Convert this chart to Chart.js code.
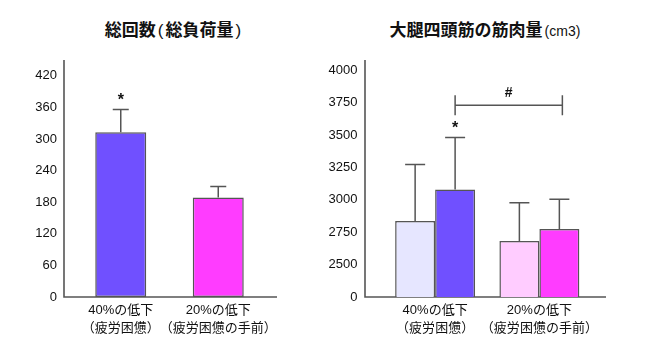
<!DOCTYPE html>
<html><head><meta charset="utf-8">
<script src="https://cdn.jsdelivr.net/npm/chart.js@4.4.0/dist/chart.umd.min.js"></script>
<style>
body{margin:0;background:#fff;width:651px;height:357px;overflow:hidden;position:relative;font-family:"Liberation Sans","Noto Sans CJK JP",sans-serif}
canvas{position:absolute;left:0;top:0}
.title{position:absolute;top:21px;line-height:20px;font-weight:bold;font-size:17px;white-space:nowrap;transform:translateX(-50%);color:#111;font-family:"Liberation Sans","Noto Sans CJK JP",sans-serif}
.title .u{font-size:14px;font-weight:normal;margin-left:2px}
.title .p{font-weight:normal;margin:0 2px}
</style></head><body>
<div class="title" style="left:174px">総回数<span class="p">(</span>総負荷量<span class="p">)</span></div>
<div class="title" style="left:485px">大腿四頭筋の筋肉量<span class="u">(cm3)</span></div>
<canvas id="c1" width="651" height="357"></canvas>
<canvas id="c2" width="651" height="357"></canvas>
<script>
// ---- data ----
const leftCategories = [['40%の低下','（疲労困憊）'], ['20%の低下','（疲労困憊の手前）']];
const leftValues = [313, 189];
const leftErrors = [43, 21];
const leftColors = ['#7050FF', '#FF3CFF'];
const leftTicks = [0, 60, 120, 180, 240, 300, 360, 420];

const rightCategories = [['40%の低下','（疲労困憊）'], ['20%の低下','（疲労困憊の手前）']];
const rightPre = [2837, 2683];
const rightPreErrors = [437, 295];
const rightPost = [3081, 2775];
const rightPostErrors = [401, 229];
const rightPreColors = ['#E6E6FF', '#FFCCFF'];
const rightPostColors = ['#7050FF', '#FF3CFF'];
const rightTicks = [2250, 2500, 2750, 3000, 3250, 3500, 3750, 4000];
const rightTickLabels = ['0', '2500', '2750', '3000', '3250', '3500', '3750', '4000'];

const FONT = '"Liberation Sans","Noto Sans CJK JP",sans-serif';
const LINE = '#555';

const axesPlugin = {
  id: 'axesL',
  beforeDatasetsDraw(chart, args, o) {
    const a = chart.chartArea, ctx = chart.ctx;
    ctx.save();
    ctx.strokeStyle = LINE; ctx.lineWidth = 1.6;
    ctx.beginPath();
    ctx.moveTo(a.left - o.gapL, a.top);
    ctx.lineTo(a.left - o.gapL, a.bottom);
    ctx.lineTo(a.right + o.gapR, a.bottom);
    ctx.stroke();
    ctx.restore();
  }
};

const errPlugin = {
  id: 'errs',
  afterDatasetsDraw(chart, args, o) {
    const ctx = chart.ctx, y = chart.scales.y;
    ctx.save();
    ctx.strokeStyle = LINE; ctx.lineWidth = 1.5;
    chart.data.datasets.forEach((ds, di) => {
      const meta = chart.getDatasetMeta(di);
      meta.data.forEach((bar, i) => {
        const top = y.getPixelForValue(ds.data[i] + ds.errors[i]);
        ctx.beginPath();
        ctx.moveTo(bar.x, bar.y); ctx.lineTo(bar.x, top);
        ctx.moveTo(bar.x - o.cap / 2, top); ctx.lineTo(bar.x + o.cap / 2, top);
        ctx.stroke();
      });
    });
    // significance marks
    ctx.fillStyle = '#111';
    ctx.textAlign = 'center'; ctx.textBaseline = 'middle';
    (o.stars || []).forEach(s => {
      const ds = chart.data.datasets[s.ds];
      const bar = chart.getDatasetMeta(s.ds).data[s.i];
      const top = y.getPixelForValue(ds.data[s.i] + ds.errors[s.i]);
      ctx.font = 'bold 16px ' + FONT;
      ctx.fillText('*', bar.x, top - 9);
    });
    if (o.bracket) {
      const b = o.bracket;
      const x1 = chart.getDatasetMeta(b.from[0]).data[b.from[1]].x;
      const x2 = chart.getDatasetMeta(b.to[0]).data[b.to[1]].x + 3;
      const yy = y.getPixelForValue(b.value);
      ctx.beginPath();
      ctx.moveTo(x1, yy); ctx.lineTo(x2, yy);
      ctx.moveTo(x1, yy - 10); ctx.lineTo(x1, yy + 10);
      ctx.moveTo(x2, yy - 10); ctx.lineTo(x2, yy + 10);
      ctx.stroke();
      ctx.font = 'bold 14px ' + FONT;
      ctx.fillText(b.text, (x1 + x2) / 2, yy - 12);
    }
    ctx.restore();
  }
};

function makeChart(id, cfg) {
  return new Chart(document.getElementById(id), {
    type: 'bar',
    data: { labels: cfg.labels, datasets: cfg.datasets },
    options: {
      responsive: false, animation: false, devicePixelRatio: 1,
      layout: { padding: cfg.padding },
      datasets: { bar: { barPercentage: cfg.barPct, categoryPercentage: cfg.catPct, borderColor: LINE, borderWidth: 1.5, borderSkipped: false } },
      plugins: { legend: { display: false }, tooltip: { enabled: false }, title: { display: false },
        axesL: cfg.axes, errs: cfg.errs },
      scales: {
        x: {
          grid: { display: false, drawTicks: false }, border: { display: false },
          ticks: { padding: 4, color: '#111', maxRotation: 0, autoSkip: false, font: { size: 13, family: FONT, lineHeight: '18px' } },
          afterFit: s => { s.height = 60; }
        },
        y: {
          min: cfg.min, max: cfg.max,
          afterBuildTicks: s => { s.ticks = cfg.ticks.map(v => ({ value: v })); },
          grid: { display: false, drawTicks: false }, border: { display: false },
          ticks: { padding: cfg.tickPad, color: '#111', font: { size: 13, family: FONT },
            callback: cfg.tickCb },
          afterFit: s => { s.width = cfg.yWidth; }
        }
      }
    },
    plugins: [axesPlugin, errPlugin]
  });
}

makeChart('c1', {
  labels: leftCategories,
  datasets: [{ data: leftValues, errors: leftErrors, backgroundColor: leftColors }],
  padding: { left: 0, top: 60, right: 384, bottom: 0 },
  barPct: 0.523, catPct: 1,
  min: 0, max: 450, ticks: leftTicks, tickPad: 15, yWidth: 72,
  tickCb: v => String(v),
  axes: { gapL: 8, gapR: 10 },
  errs: { cap: 16, stars: [{ ds: 0, i: 0 }] }
});

makeChart('c2', {
  labels: rightCategories,
  datasets: [
    { data: rightPre, errors: rightPreErrors, backgroundColor: rightPreColors },
    { data: rightPost, errors: rightPostErrors, backgroundColor: rightPostColors }
  ],
  padding: { left: 0, top: 60, right: 59.5, bottom: 0 },
  barPct: 1, catPct: 0.767,
  min: 2250, max: 4080, ticks: rightTicks, tickPad: 25.5, yWidth: 383,
  tickCb: (v, i) => rightTickLabels[i],
  axes: { gapL: 18, gapR: 14.5 },
  errs: { cap: 20, stars: [{ ds: 1, i: 0 }], bracket: { from: [1, 0], to: [1, 1], value: 3730, text: '#' } }
});
</script>
</body></html>
